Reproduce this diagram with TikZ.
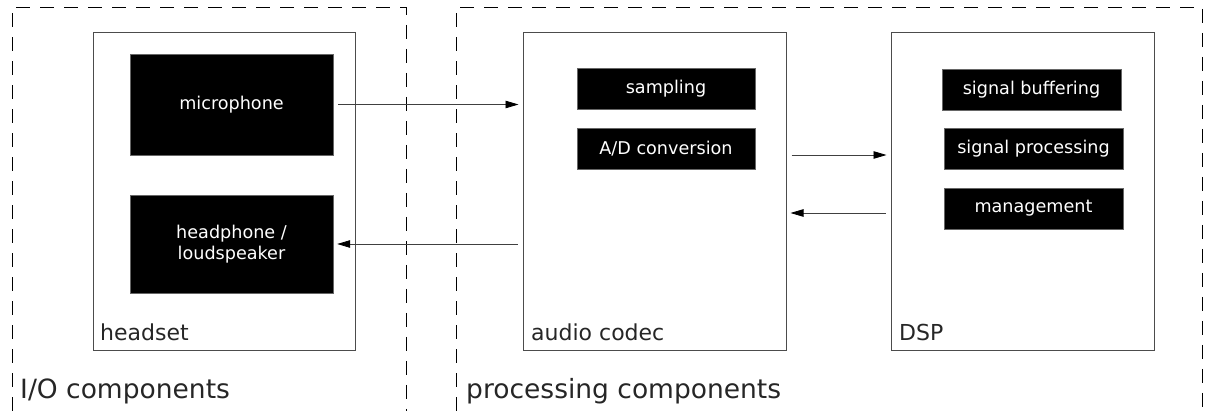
\documentclass[tikz,border=0pt]{standalone}
\usepackage{fontspec}
\setmainfont{DejaVu Sans}
\usetikzlibrary{arrows.meta}
\tikzset{
  grp/.style={draw=black, line width=0.9pt, dash pattern=on 14pt off 10pt},
  comp/.style={draw=black!70, line width=1pt, fill=white},
  blk/.style={draw=black!60, fill=black, text=white, inner sep=0pt, align=center,
    font=\fontsize{17.6}{21}\selectfont},
  lbl/.style={anchor=base west, inner sep=0pt, text=black!85, font=\fontsize{22}{26}\selectfont},
  glbl/.style={anchor=base west, inner sep=0pt, text=black!85, font=\fontsize{26.5}{30}\selectfont},
  flow/.style={draw=black!75, line width=0.8pt, -{Triangle[length=13pt,width=7.5pt,color=black,fill=black]}, shorten <=5pt, shorten >=4pt},
}
\begin{document}
\begin{tikzpicture}[x=1pt,y=-1pt]
\useasboundingbox (0,0) rectangle (1208,411);
% group frames
\draw[grp] (12,411) -- (12,7) -- (406,7) -- (406,411);
\draw[grp] (456,411) -- (456,7) -- (1202,7) -- (1202,411);
% component boxes
\node[comp, minimum width=262pt, minimum height=318pt] (headset) at (224,192) {};
\node[comp, minimum width=263pt, minimum height=318pt] (codec) at (654.5,192) {};
\node[comp, minimum width=263pt, minimum height=318pt] (dsp) at (1022.5,192) {};
% inner blocks
\node[blk, minimum width=203pt, minimum height=101pt] (mic) at (231.5,104.5) {microphone};
\node[blk, minimum width=203pt, minimum height=98pt] (hp) at (231.5,244) {headphone /\\loudspeaker};
\node[blk, minimum width=178pt, minimum height=41pt] (samp) at (666,88.5) {sampling};
\node[blk, minimum width=178pt, minimum height=41pt] (adc) at (666,148.5) {A/D conversion};
\node[blk, minimum width=179pt, minimum height=41pt] (sbuf) at (1031.5,89.5) {signal buffering};
\node[blk, minimum width=179pt, minimum height=41pt] (sproc) at (1033.5,148.5) {signal processing};
\node[blk, minimum width=179pt, minimum height=41pt] (mgmt) at (1033.5,208.5) {management};
% labels
\node[lbl] (lhs) at (100,341) {headset};
\node[lbl] (lac) at (531,341) {audio codec};
\node[lbl] (ldsp) at (899,341) {DSP};
\node[glbl] (lio) at (20,399) {I/O components};
\node[glbl] (lproc) at (466,399) {processing components};
% connectors
\draw[flow] (mic.east) -- (mic.east -| codec.west);
\draw[flow] (hp.east -| codec.west) -- (hp.east);
\draw[flow] ([yshift=37pt]codec.east) -- ([yshift=37pt]dsp.west);
\draw[flow] ([yshift=-21pt]dsp.west) -- ([yshift=-21pt]codec.east);
\end{tikzpicture}
\end{document}
